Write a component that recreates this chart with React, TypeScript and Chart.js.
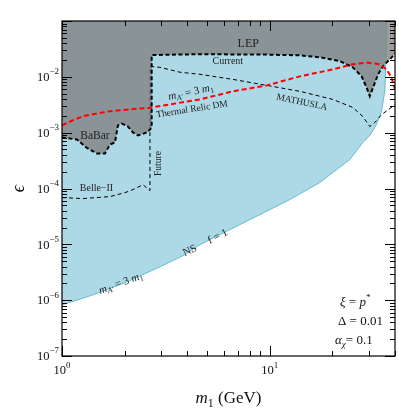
import React, { useEffect, useRef } from "react";
import { Chart, registerables } from "chart.js";
Chart.register(...registerables);

// ---- axis ranges ----
const X_MIN = 1;
const X_MAX = 40;
const Y_MIN = 1e-7;
const Y_MAX = 0.1;

// ---- NS (m_A' = 3 m_1, f = 1) lower edge of the blue region ----
const nsMass = [1.0, 1.409, 2.053, 2.96, 3.817, 4.608, 7.17, 10.0, 12.48, 17.39, 24.24, 28.0, 30.25, 32.58, 34.43, 35.72, 36.12, 36.39];
const nsEps = [8.23e-7, 1.245e-6, 2.13e-6, 3.96e-6, 6.24e-6, 9.84e-6, 2.25e-5, 4.18e-5, 6.33e-5, 1.28e-4, 3.3e-4, 6.67e-4, 8.9e-4, 1.4e-3, 2.4e-3, 5.5e-3, 1.68e-2, 0.1];

// ---- current bounds (BaBar + LEP) ----
const currentMass = [1.0, 1.18, 1.314, 1.473, 1.609, 1.701, 1.798, 1.858, 1.943, 2.076, 2.195, 2.319, 2.563, 2.649, 2.7, 2.7, 4.608, 9.67, 13.94, 17.39, 21.7, 25.06, 27.6, 29.17, 30.25, 31.38, 33.17, 35.05, 37.06, 39.9, 40];
const currentEps = [8.2e-4, 7.55e-4, 5.36e-4, 4.24e-4, 4.24e-4, 6.14e-4, 6.67e-4, 1.35e-3, 1.46e-3, 1.29e-3, 1.01e-3, 8.9e-4, 1.01e-3, 1.14e-3, 1.24e-3, 2.46e-2, 2.54e-2, 2.5e-2, 2.43e-2, 2.24e-2, 1.92e-2, 1.48e-2, 1.03e-2, 6.47e-3, 4.52e-3, 6.47e-3, 1.11e-2, 1.56e-2, 1.92e-2, 2.54e-2, 2.6e-2];

// ---- future (Belle-II + MATHUSLA) ----
const futureMass = [1.0, 1.262, 1.701, 2.009, 2.195, 2.452, 2.649, 2.649, 2.96, 3.692, 4.608, 6.64, 9.67, 13.94, 20.09, 25.06, 28.0, 30.25, 31.97, 34.55, 39.03, 40];
const futureEps = [6.87e-5, 6.6e-5, 7.16e-5, 8.43e-5, 9.55e-5, 1.17e-4, 9.16e-5, 1.54e-2, 1.48e-2, 1.21e-2, 1.11e-2, 9.0e-3, 7.03e-3, 5.5e-3, 3.94e-3, 2.83e-3, 1.95e-3, 1.29e-3, 1.52e-3, 2.12e-3, 2.95e-3, 3.21e-3];

// ---- thermal relic DM ----
const relicMass = [1.0, 1.129, 1.266, 1.701, 2.649, 4.608, 6.64, 9.67, 13.94, 20.09, 25.06, 29.17, 33.8, 36.39, 38.46, 40];
const relicEps = [1.35e-3, 1.67e-3, 1.98e-3, 2.43e-3, 2.8e-3, 3.94e-3, 5.5e-3, 7.03e-3, 1.02e-2, 1.36e-2, 1.68e-2, 1.8e-2, 1.68e-2, 1.36e-2, 9.8e-3, 5.97e-3];

// ---- tick labels ----
const xMajorTicks = [1, 10];
const xMajorExp = ["0", "1"];
const yMajorTicks = [1e-7, 1e-6, 1e-5, 1e-4, 1e-3, 1e-2];
const yMajorExp = ["−7", "−6", "−5", "−4", "−3", "−2"];

const FAM = '"Liberation Serif", "DejaVu Serif", serif';

type Seg = { t: string; it?: boolean; sub?: boolean; sup?: boolean };

const mA: Seg[] = [
  { t: "m", it: true },
  { t: "A′", it: true, sub: true },
  { t: " = 3 " },
  { t: "m", it: true },
  { t: "1", sub: true },
];

const notes: { segs: Seg[]; m: number; e: number; size: number; angle: number }[] = [
  { segs: [{ t: "LEP" }], m: 7.87, e: 3.95e-2, size: 12, angle: 0 },
  { segs: [{ t: "Current" }], m: 6.28, e: 1.92e-2, size: 10, angle: 0 },
  { segs: mA, m: 4.17, e: 5.27e-3, size: 11, angle: -12 },
  { segs: [{ t: "Thermal Relic DM" }], m: 4.22, e: 2.61e-3, size: 9.5, angle: -9 },
  { segs: [{ t: "MATHUSLA" }], m: 14.25, e: 3.48e-3, size: 9.5, angle: 12 },
  { segs: [{ t: "BaBar" }], m: 1.441, e: 8.9e-4, size: 11.5, angle: 0 },
  { segs: [{ t: "Belle−II" }], m: 1.465, e: 9.95e-5, size: 10, angle: 0 },
  { segs: [{ t: "Future" }], m: 2.904, e: 2.8e-4, size: 9.5, angle: -90 },
  { segs: mA, m: 1.921, e: 2.0e-6, size: 11, angle: -20 },
  { segs: [{ t: "NS" }], m: 4.125, e: 7.67e-6, size: 11, angle: -25 },
  { segs: [{ t: "f = 1" }], m: 5.62, e: 1.37e-5, size: 11, angle: -27 },
];

function drawRich(
  ctx: CanvasRenderingContext2D,
  segs: Seg[],
  x: number,
  y: number,
  size: number,
  angle = 0,
  align: "left" | "center" | "right" = "center",
  color = "#222"
) {
  const fontFor = (s: Seg) => `${s.it ? "italic " : ""}${s.sub || s.sup ? size * 0.7 : size}px ${FAM}`;
  let w = 0;
  const widths = segs.map((s) => {
    ctx.font = fontFor(s);
    const mw = ctx.measureText(s.t).width;
    w += mw;
    return mw;
  });
  ctx.save();
  ctx.translate(x, y);
  ctx.rotate((angle * Math.PI) / 180);
  let cx = align === "center" ? -w / 2 : align === "right" ? -w : 0;
  ctx.textBaseline = "middle";
  ctx.textAlign = "left";
  ctx.fillStyle = color;
  segs.forEach((s, i) => {
    ctx.font = fontFor(s);
    const dy = s.sub ? size * 0.28 : s.sup ? -size * 0.38 : 0;
    ctx.fillText(s.t, cx, dy);
    cx += widths[i];
  });
  ctx.restore();
}

const deco = {
  id: "deco",
  afterDatasetsDraw(chart: any) {
    const { ctx, chartArea } = chart;
    const { left, right, top, bottom } = chartArea;
    const xs = chart.scales.x;
    const ys = chart.scales.y;

    // annotations
    notes.forEach((n) => {
      drawRich(ctx, n.segs, xs.getPixelForValue(n.m), ys.getPixelForValue(n.e), n.size, n.angle, "center");
    });

    // parameter box
    const px = right - 57;
    drawRich(ctx, [{ t: "ξ", it: true }, { t: " = " }, { t: "p", it: true }, { t: "*", sup: true }], px + 2, bottom - 53, 13, 0, "left", "#111");
    drawRich(ctx, [{ t: "Δ = 0.01" }], px, bottom - 34, 13, 0, "left", "#111");
    drawRich(ctx, [{ t: "α", it: true }, { t: "χ", it: true, sub: true }, { t: "= 0.1" }], px - 3, bottom - 15, 13, 0, "left", "#111");

    // spines
    ctx.save();
    ctx.strokeStyle = "#000";
    ctx.lineWidth = 1.2;
    ctx.strokeRect(left, top, right - left, bottom - top);

    // ticks (inward)
    ctx.lineWidth = 1;
    const major = 10;
    const minor = 5;
    for (let d = 1; d <= 10; d *= 10) {
      for (let k = 1; k <= 9; k++) {
        const v = k * d;
        if (v < X_MIN || v > X_MAX) continue;
        const p = Math.round(xs.getPixelForValue(v)) + 0.5;
        const L = k === 1 ? major : minor;
        ctx.beginPath();
        ctx.moveTo(p, bottom);
        ctx.lineTo(p, bottom - L);
        ctx.moveTo(p, top);
        ctx.lineTo(p, top + L);
        ctx.stroke();
      }
    }
    for (let e = -7; e <= -1; e++) {
      const d = Math.pow(10, e);
      for (let k = 1; k <= 9; k++) {
        const v = k * d;
        if (v < Y_MIN * 0.999 || v > Y_MAX * 1.001) continue;
        const p = Math.round(ys.getPixelForValue(v)) + 0.5;
        const L = k === 1 ? major : minor;
        ctx.beginPath();
        ctx.moveTo(left, p);
        ctx.lineTo(left + L, p);
        ctx.moveTo(right, p);
        ctx.lineTo(right - L, p);
        ctx.stroke();
      }
    }
    ctx.restore();

    // tick labels
    ctx.save();
    ctx.fillStyle = "#111";
    ctx.textBaseline = "middle";
    yMajorTicks.forEach((v, i) => {
      const p = ys.getPixelForValue(v);
      ctx.font = `9px ${FAM}`;
      const ew = ctx.measureText(yMajorExp[i]).width;
      ctx.textAlign = "right";
      ctx.fillText(yMajorExp[i], left - 3, p - 5);
      ctx.font = `12.5px ${FAM}`;
      ctx.fillText("10", left - 3 - ew, p + 1);
    });
    xMajorTicks.forEach((v, i) => {
      const p = xs.getPixelForValue(v);
      ctx.font = `12.5px ${FAM}`;
      const bw = ctx.measureText("10").width;
      ctx.font = `9px ${FAM}`;
      const ew = ctx.measureText(xMajorExp[i]).width;
      const x0 = p - (bw + ew) / 2;
      ctx.textAlign = "left";
      ctx.font = `12.5px ${FAM}`;
      ctx.fillText("10", x0, bottom + 15);
      ctx.font = `9px ${FAM}`;
      ctx.fillText(xMajorExp[i], x0 + bw, bottom + 10);
    });
    ctx.restore();

    // axis titles
    drawRich(ctx, [{ t: "m", it: true }, { t: "1", sub: true }, { t: " (GeV)" }], (left + right) / 2, bottom + 43, 17, 0, "center", "#111");
    drawRich(ctx, [{ t: "ϵ", it: true }], 19, (top + bottom) / 2, 18, -90, "center", "#111");
  },
};

const pts = (xs: number[], ys: number[]) => xs.map((x, i) => ({ x, y: ys[i] }));

export default function App() {
  const ref = useRef<HTMLCanvasElement>(null);
  useEffect(() => {
    if (!ref.current) return;
    const chart = new Chart(ref.current, {
      type: "line",
      data: {
        datasets: [
          {
            label: "NS",
            data: pts(nsMass, nsEps),
            borderColor: "#62bcd2",
            borderWidth: 1,
            backgroundColor: "#add8e6",
            fill: "end",
            pointRadius: 0,
            tension: 0,
            order: 5,
          },
          {
            label: "Current",
            data: pts(currentMass, currentEps),
            borderColor: "#000",
            borderWidth: 2,
            borderDash: [4, 2.5],
            backgroundColor: "rgba(128,128,128,0.78)",
            fill: "end",
            pointRadius: 0,
            tension: 0,
            order: 3,
          },
          {
            label: "Future",
            data: pts(futureMass, futureEps),
            borderColor: "#000",
            borderWidth: 1,
            borderDash: [4, 3],
            fill: false,
            pointRadius: 0,
            tension: 0,
            order: 4,
          },
          {
            label: "Thermal Relic DM",
            data: pts(relicMass, relicEps),
            borderColor: "#ff0000",
            borderWidth: 2,
            borderDash: [5, 3],
            fill: false,
            pointRadius: 0,
            tension: 0,
            order: 1,
          },
        ],
      },
      options: {
        animation: false,
        responsive: false,
        devicePixelRatio: 1,
        layout: { padding: { left: 62, right: 4, top: 21, bottom: 56 } },
        plugins: { legend: { display: false }, tooltip: { enabled: false } },
        scales: {
          x: { type: "logarithmic", min: X_MIN, max: X_MAX, display: false },
          y: { type: "logarithmic", min: Y_MIN, max: Y_MAX, display: false },
        },
      },
      plugins: [deco],
    });
    return () => chart.destroy();
  }, []);
  return (
    <div style={{ position: "absolute", left: 0, top: 0, width: 399, height: 412, background: "#fff" }}>
      <canvas ref={ref} width={399} height={412} style={{ width: 399, height: 412, display: "block" }} />
    </div>
  );
}
